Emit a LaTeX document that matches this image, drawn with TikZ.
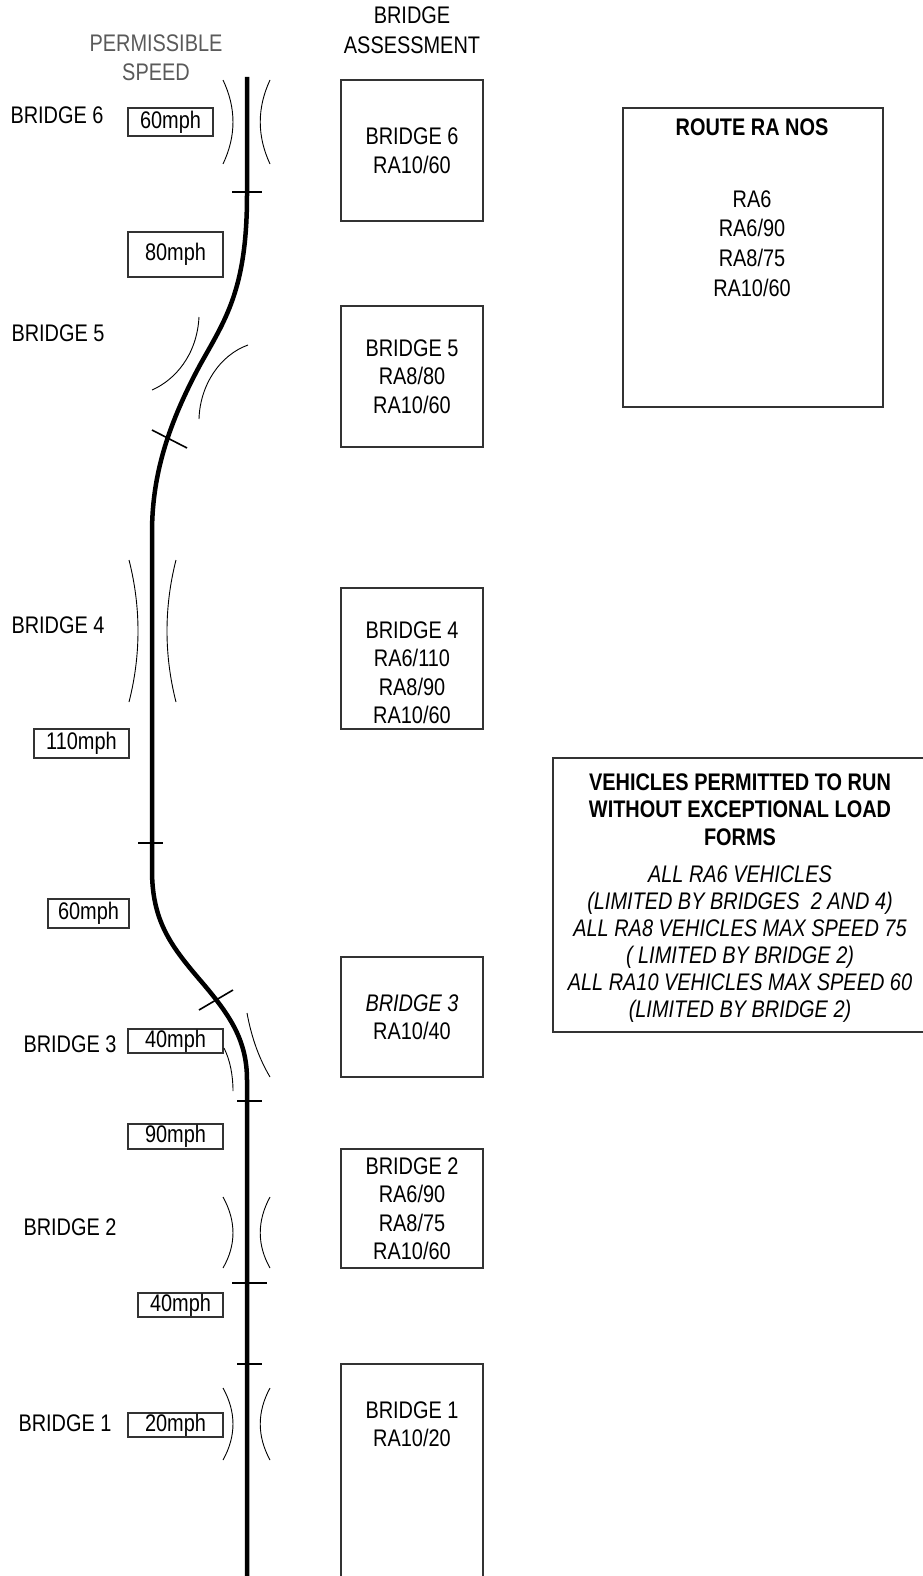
\documentclass[tikz,border=0pt]{standalone}
\usepackage{fontspec}
\setmainfont{Liberation Sans}[FakeStretch=0.83]
\usepackage{xcolor}
\usepackage{tikz}
\usetikzlibrary{positioning}
\definecolor{FrameGrey}{RGB}{51,51,51}
\definecolor{HeadGrey}{RGB}{90,90,90}

\begin{document}
\begin{tikzpicture}[x=1pt, y=-1pt]
      \tikzset{every node/.style={font=\fontsize{24pt}{28.5pt}\selectfont, inner sep=0pt},
        spd/.style={draw=FrameGrey, line width=1.2pt, minimum height=25pt},
        asb/.style={draw=FrameGrey, line width=1.2pt, minimum width=142pt, align=center},
        trk/.style={line width=4.5pt},
        tck/.style={line width=1.6pt},
        brg/.style={line width=0.9pt}}
      \useasboundingbox (0,0) rectangle (923,1576);
      % headings
      \node[align=center, text=HeadGrey] (hdrspeed) at (156,57.5) {PERMISSIBLE\\SPEED};
      \node[align=center, font=\fontsize{24pt}{30pt}\selectfont] (hdrassess) at (412,30) {BRIDGE\\ASSESSMENT};
      % bridge names
      \node (lab6) at (57,115) {BRIDGE 6};
      \node (lab5) at (58,333) {BRIDGE 5};
      \node (lab4) at (58,625) {BRIDGE 4};
      \node (lab3) at (70,1044) {BRIDGE 3};
      \node (lab2) at (70,1227) {BRIDGE 2};
      \node (lab1) at (65,1423) {BRIDGE 1};
      % permissible speeds
      \node[spd, minimum width=85pt, minimum height=28pt] (spd6) at (170.5,122) {60mph};
      \node[spd, minimum width=95pt, minimum height=45pt] (spd80) at (175.5,254.5) {80mph};
      \node[spd, minimum width=95pt, minimum height=29pt] (spd110) at (81.5,743.5) {110mph};
      \node[spd, minimum width=81pt, minimum height=29pt] (spd60) at (88.5,913.5) {60mph};
      \node[spd, minimum width=95pt, minimum height=24pt] (spd3) at (175.5,1041) {40mph};
      \node[spd, minimum width=95pt] (spd90) at (175.5,1136.5) {90mph};
      \node[spd, minimum width=85pt, minimum height=24pt] (spd40) at (180.5,1305) {40mph};
      \node[spd, minimum width=95pt, minimum height=24pt] (spd1) at (175.5,1425) {20mph};
      % bridge assessment boxes
      \node[asb, minimum height=141pt] (box6) at (412,150.5) {BRIDGE 6\\RA10/60};
      \node[asb, minimum height=141pt] (box5) at (412,376.5) {BRIDGE 5\\RA8/80\\RA10/60};
      \node[asb, minimum height=141pt] (box4) at (412,658.5) {};
      \node[align=center] (txt4) at (412,672.5) {BRIDGE 4\\RA6/110\\RA8/90\\RA10/60};
      \node[asb, minimum height=120pt] (box3) at (412,1017) {\textit{BRIDGE 3}\\RA10/40};
      \node[asb, minimum height=119pt] (box2) at (412,1208.5) {BRIDGE 2\\RA6/90\\RA8/75\\RA10/60};
      \draw[draw=FrameGrey, line width=1.2pt] (341,1580) |- (483,1364) -- (483,1580);
      \node[align=center] (txt1) at (412,1424) {BRIDGE 1\\RA10/20};
      % route summary
      \node[draw=FrameGrey, line width=1.2pt, minimum width=260pt, minimum height=299pt] (route) at (753,257.5) {};
      \node (routetitle) at (752,127) {\textbf{ROUTE RA NOS}};
      \node[align=center, font=\fontsize{24pt}{29.7pt}\selectfont] (routelist) at (752,243.5) {RA6\\RA6/90\\RA8/75\\RA10/60};
      \draw[draw=FrameGrey, line width=1.2pt] (930,758) -- (553,758) -- (553,1032) -- (930,1032);
      \node[align=center, font=\fontsize{24pt}{27.5pt}\selectfont\bfseries] (vtitle) at (740,809.5) {VEHICLES PERMITTED TO RUN\\WITHOUT EXCEPTIONAL LOAD\\FORMS};
      \node[align=center, font=\fontsize{24pt}{27pt}\selectfont\itshape] (vbody) at (740,944.5) {ALL RA6 VEHICLES\\(LIMITED BY BRIDGES\ \ 2 AND 4)\\ALL RA8 VEHICLES MAX SPEED 75\\(\ LIMITED BY BRIDGE 2)\\ALL RA10 VEHICLES MAX SPEED 60\\(LIMITED BY BRIDGE 2)};
      % the line
      \draw[trk] (247,77) -- (247,195) .. controls (247,290) and (225,320) .. (200,365)
        .. controls (165,430) and (152,480) .. (152,533) -- (152,870)
        .. controls (152,920) and (170,945) .. (200,980)
        .. controls (230,1015) and (247,1040) .. (247,1080) -- (247,1580);
      % section ticks
      \draw[tck] (232,192) -- (262,192);
      \draw[tck] (152,430) -- (187,448);
      \draw[tck] (138,843) -- (163,843);
      \draw[tck] (199,1010) -- (233,990);
      \draw[tck] (237,1101) -- (262,1101);
      \draw[tck] (232,1283) -- (267,1283);
      \draw[tck] (237,1364) -- (262,1364);
      % bridge parapets
      \draw[brg] (223,80) .. controls (236.3,108) and (236.3,136) .. (223,164);
      \draw[brg] (270,80) .. controls (257,108) and (257,136) .. (270,164);
      \draw[brg] (199,317) .. controls (197,355) and (175,380) .. (152,390);
      \draw[brg] (248,345) .. controls (220,355) and (200,385) .. (199,419);
      \draw[brg] (129,560) .. controls (141,607) and (141,655) .. (129,702);
      \draw[brg] (176,560) .. controls (164,607) and (164,655) .. (176,702);
      \draw[brg] (247,1013) .. controls (252,1040) and (260,1060) .. (270,1077);
      \draw[brg] (224,1048) .. controls (230,1060) and (233,1075) .. (233,1091);
      \draw[brg] (223,1197) .. controls (236.3,1221) and (236.3,1245) .. (223,1268);
      \draw[brg] (270,1197) .. controls (257,1221) and (257,1245) .. (270,1268);
      \draw[brg] (223,1388) .. controls (236.3,1412) and (236.3,1436) .. (223,1460);
      \draw[brg] (270,1388) .. controls (257,1412) and (257,1436) .. (270,1460);
    \end{tikzpicture}
\end{document}
